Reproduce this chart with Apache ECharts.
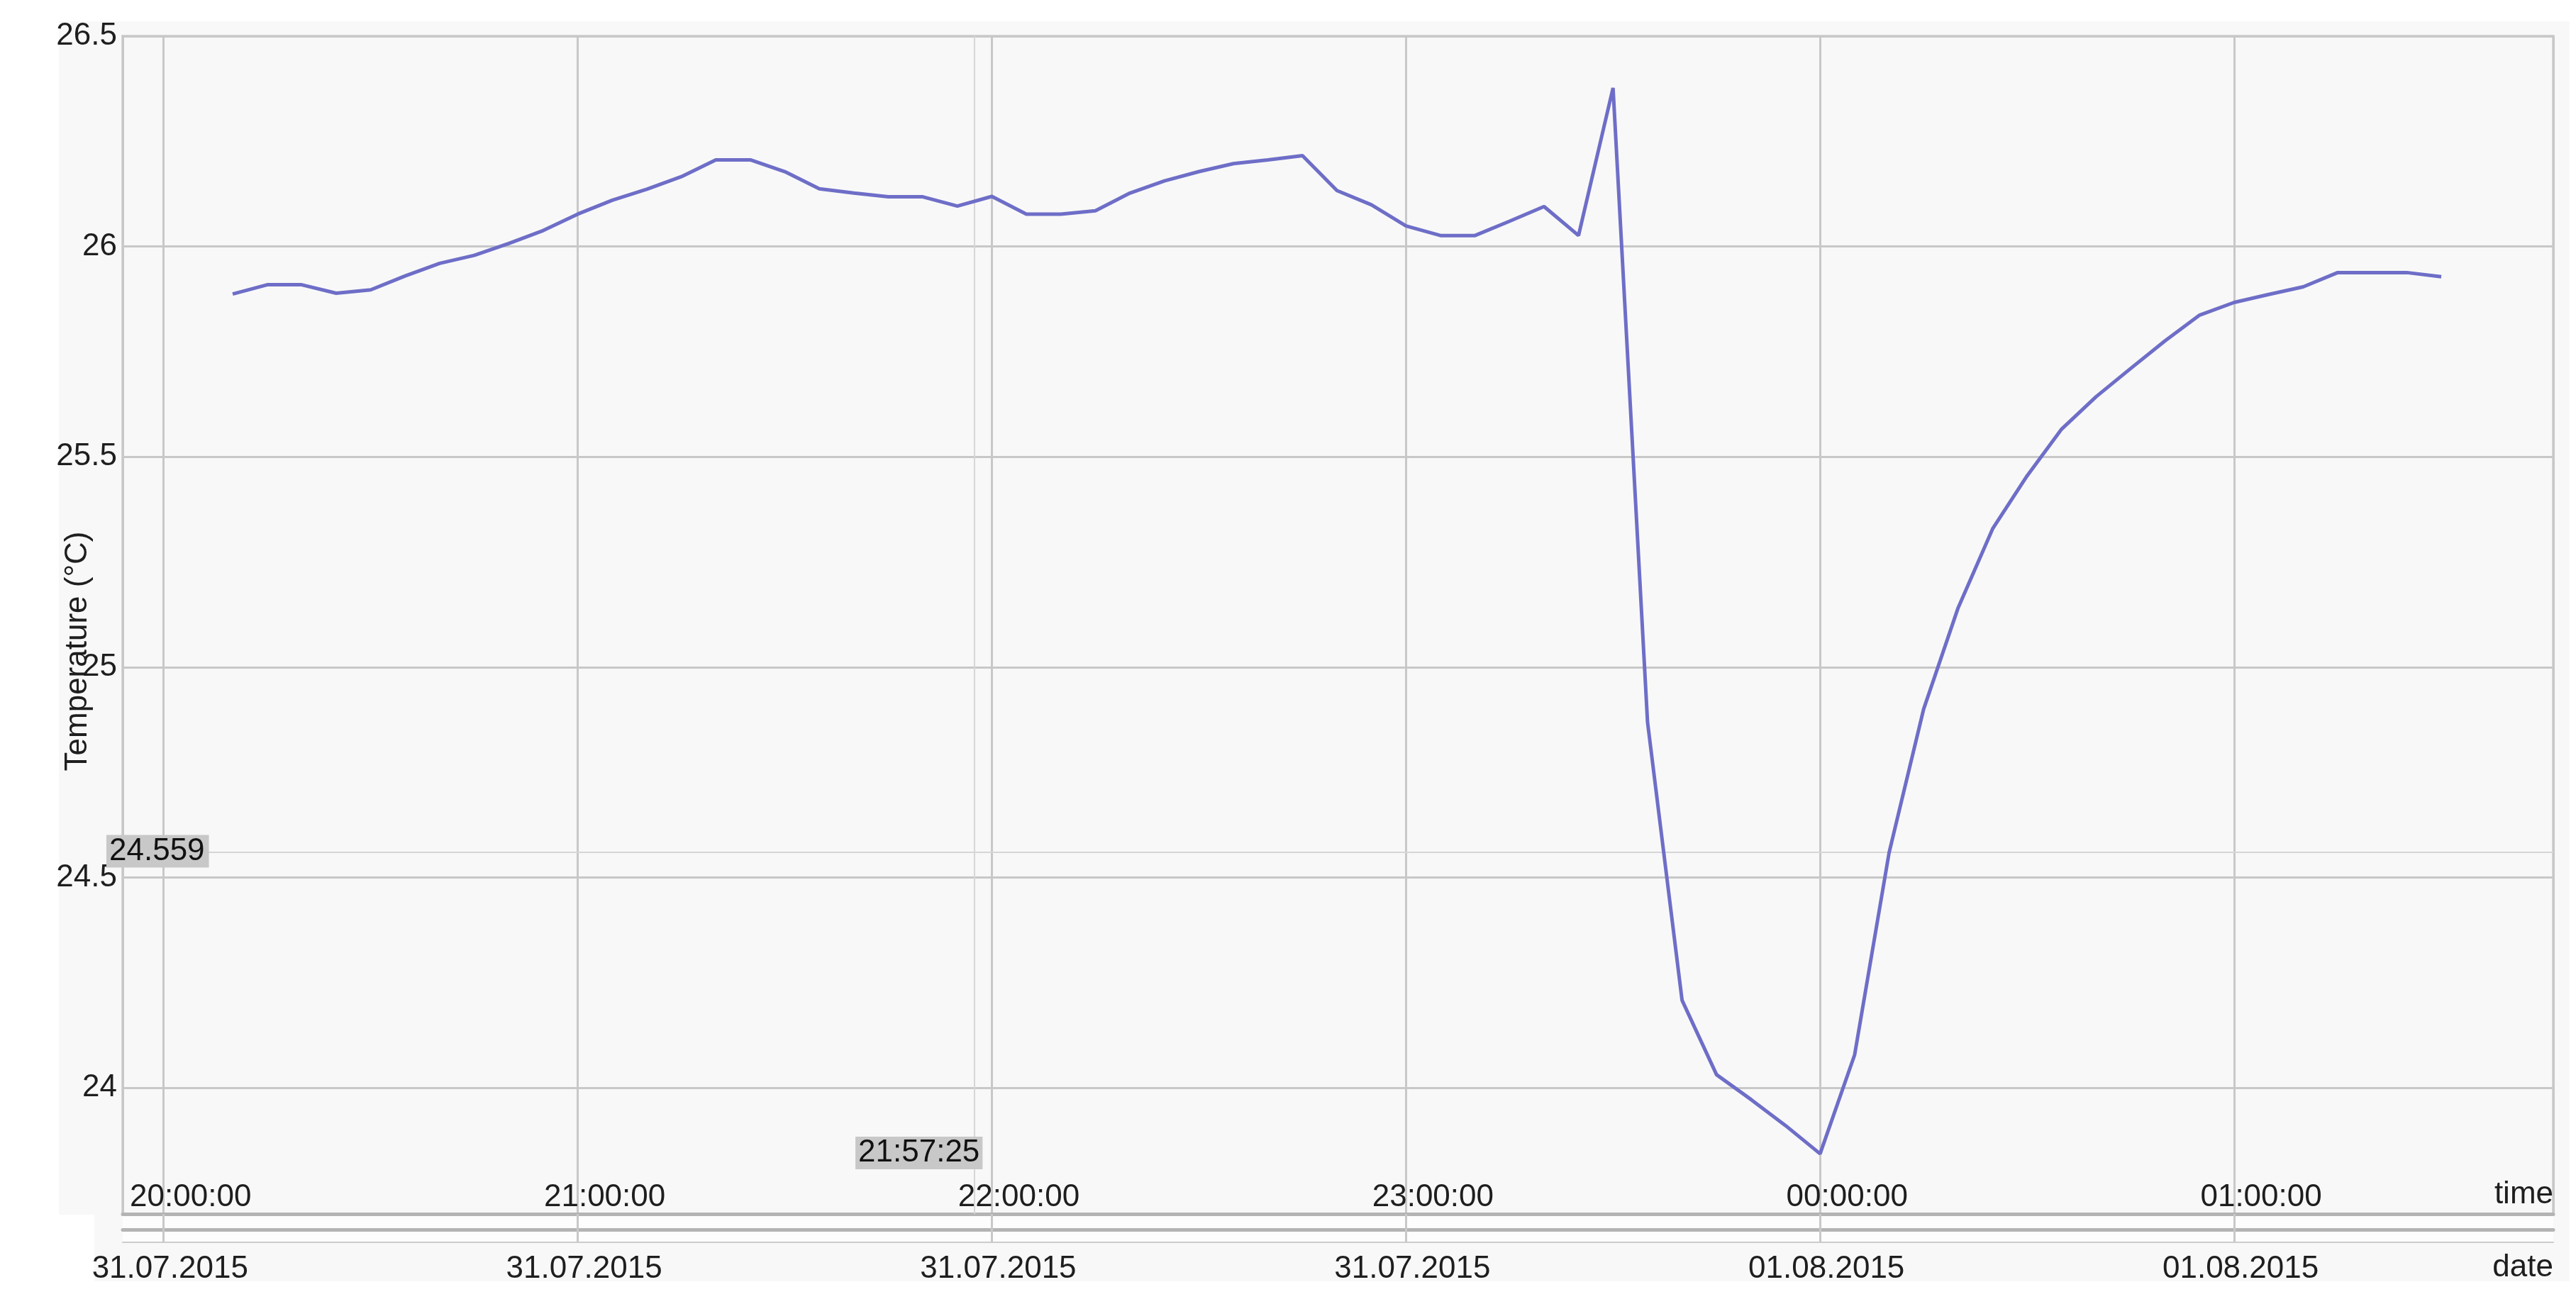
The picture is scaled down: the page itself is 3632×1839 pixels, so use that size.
<!DOCTYPE html>
<html>
<head>
<meta charset="utf-8">
<script src="https://cdn.jsdelivr.net/npm/echarts@6.0.0/dist/echarts.min.js"></script>
<style>
html,body{margin:0;padding:0;background:#fff;}
#chart{width:3632px;height:1839px;}
</style>
</head>
<body>
<div id="chart"></div>
<script>
// ---- data ----
const times = [
  '2015-07-31T20:10:00','2015-07-31T20:15:00','2015-07-31T20:20:00','2015-07-31T20:25:00','2015-07-31T20:30:00',
  '2015-07-31T20:35:00','2015-07-31T20:40:00','2015-07-31T20:45:00','2015-07-31T20:50:00','2015-07-31T20:55:00',
  '2015-07-31T21:00:00','2015-07-31T21:05:00','2015-07-31T21:10:00','2015-07-31T21:15:00','2015-07-31T21:20:00',
  '2015-07-31T21:25:00','2015-07-31T21:30:00','2015-07-31T21:35:00','2015-07-31T21:40:00','2015-07-31T21:45:00',
  '2015-07-31T21:50:00','2015-07-31T21:55:00','2015-07-31T22:00:00','2015-07-31T22:05:00','2015-07-31T22:10:00',
  '2015-07-31T22:15:00','2015-07-31T22:20:00','2015-07-31T22:25:00','2015-07-31T22:30:00','2015-07-31T22:35:00',
  '2015-07-31T22:40:00','2015-07-31T22:45:00','2015-07-31T22:50:00','2015-07-31T22:55:00','2015-07-31T23:00:00',
  '2015-07-31T23:05:00','2015-07-31T23:10:00','2015-07-31T23:15:00','2015-07-31T23:20:00','2015-07-31T23:25:00',
  '2015-07-31T23:30:00','2015-07-31T23:35:00','2015-07-31T23:40:00','2015-07-31T23:45:00','2015-07-31T23:50:00',
  '2015-07-31T23:55:00','2015-08-01T00:00:00','2015-08-01T00:05:00','2015-08-01T00:10:00','2015-08-01T00:15:00',
  '2015-08-01T00:20:00','2015-08-01T00:25:00','2015-08-01T00:30:00','2015-08-01T00:35:00','2015-08-01T00:40:00',
  '2015-08-01T00:45:00','2015-08-01T00:50:00','2015-08-01T00:55:00','2015-08-01T01:00:00','2015-08-01T01:05:00',
  '2015-08-01T01:10:00','2015-08-01T01:15:00','2015-08-01T01:20:00','2015-08-01T01:25:00','2015-08-01T01:30:00'
];
const temperatures = [
  25.887, 25.909, 25.909, 25.889, 25.897,
  25.930, 25.960, 25.979, 26.007, 26.038,
  26.077, 26.110, 26.136, 26.166, 26.206,
  26.206, 26.178, 26.137, 26.127, 26.118,
  26.118, 26.096, 26.119, 26.077, 26.077,
  26.085, 26.127, 26.156, 26.178, 26.197,
  26.206, 26.216, 26.133, 26.099, 26.049,
  26.026, 26.026, 26.060, 26.095, 26.026,
  26.377, 24.869, 24.208, 24.031, 23.972,
  23.910, 23.843, 24.078, 24.559, 24.900,
  25.141, 25.329, 25.455, 25.566, 25.643,
  25.710, 25.776, 25.837, 25.867, 25.886,
  25.904, 25.938, 25.938, 25.938, 25.928
];
const xRange = ['2015-07-31T19:54:04', '2015-08-01T01:46:14'];
const yRange = [23.7, 26.5];
const cursorTime = '2015-07-31T21:57:25';
const cursorLabel = '21:57:25';
const cursorValue = 24.559;
const axisNames = { y: 'Temperature (°C)', time: 'time', date: 'date' };

// ---- chart ----
const FONT = 'Liberation Sans, Arial, sans-serif';
const ms = s => new Date(s).getTime();
const xMin = ms(xRange[0]), xMax = ms(xRange[1]);
const seriesData = times.map((t, i) => [ms(t), temperatures[i]]);

const chart = echarts.init(document.getElementById('chart'), null, {renderer: 'canvas'});
const gridC = '#c8c8c8';
const textC = '#1e1e1e';

const baseX = {
  type: 'time', min: xMin, max: xMax, position: 'bottom',
  minInterval: 3600000, maxInterval: 3600000
};

chart.setOption({
  animation: false,
  backgroundColor: '#ffffff',
  textStyle: {fontFamily: FONT},
  graphic: [
    {type: 'rect', z: -20, shape: {x: 83, y: 30, width: 3540, height: 1683}, style: {fill: '#f8f8f8'}},
    {type: 'rect', z: -20, shape: {x: 133, y: 1712, width: 3490, height: 95}, style: {fill: '#f8f8f8'}},
    {type: 'rect', z: -19, shape: {x: 173, y: 1712, width: 3427, height: 40}, style: {fill: '#fdfdfd'}}
  ],
  grid: {
    left: 173, top: 51, width: 3427, height: 1661,
    show: true, backgroundColor: '#f8f8f8', borderColor: '#b4b4b4', borderWidth: 3,
    containLabel: false
  },
  xAxis: [
    Object.assign({}, baseX, {
      name: axisNames.time, nameLocation: 'end', nameGap: 0,
      nameTextStyle: {fontSize: 44, color: textC, align: 'right', verticalAlign: 'bottom', padding: [0, 0, 5, 0], fontFamily: FONT},
      axisLine: {show: true, lineStyle: {color: '#b4b4b4', width: 5}},
      axisTick: {show: false},
      splitLine: {show: true, lineStyle: {color: gridC, width: 3}},
      axisLabel: {
        inside: true, margin: 23, verticalAlign: 'middle', fontSize: 44, color: textC, fontFamily: FONT,
        formatter: '{HH}:{mm}:{ss}', showMinLabel: false, showMaxLabel: false,
        padding: [0, 0, 0, 76], hideOverlap: false
      }
    }),
    Object.assign({}, baseX, {
      offset: 22,
      axisLine: {show: true, lineStyle: {color: '#b4b4b4', width: 5}},
      axisTick: {show: false}, axisLabel: {show: false}, splitLine: {show: false}
    }),
    Object.assign({}, baseX, {
      offset: 40,
      name: axisNames.date, nameLocation: 'end', nameGap: 0,
      nameTextStyle: {fontSize: 44, color: textC, align: 'right', verticalAlign: 'top', padding: [14, 0, 0, 0], fontFamily: FONT},
      axisLine: {show: true, lineStyle: {color: '#cccccc', width: 2}},
      axisTick: {show: true, inside: true, length: 40, lineStyle: {color: gridC, width: 3}},
      splitLine: {show: false},
      axisLabel: {
        margin: 9, fontSize: 44, color: textC, fontFamily: FONT,
        formatter: '{dd}.{MM}.{yyyy}', showMinLabel: false, showMaxLabel: false,
        padding: [7, 0, 0, 18], hideOverlap: false
      }
    })
  ],
  yAxis: [
    {
      type: 'value', min: yRange[0], max: yRange[1], position: 'left',
      axisLine: {show: false}, axisTick: {show: false},
      splitLine: {show: true, lineStyle: {color: gridC, width: 3}},
      axisLabel: {fontSize: 44, color: textC, margin: 8, fontFamily: FONT, showMinLabel: false}
    },
    {
      type: 'value', min: yRange[0], max: yRange[1], position: 'left',
      name: axisNames.y, nameLocation: 'middle', nameGap: 41, nameRotate: 90,
      nameTextStyle: {fontSize: 44, color: textC, fontFamily: FONT, padding: [0, 74, 0, 0]},
      axisLine: {show: false}, axisTick: {show: false},
      splitLine: {show: false}, axisLabel: {show: false}
    }
  ],
  series: [{
    type: 'line',
    data: seriesData,
    showSymbol: false,
    symbol: 'none',
    lineStyle: {color: '#6e6ec8', width: 5},
    itemStyle: {color: '#6e6ec8'},
    z: 5,
    markLine: {
      silent: true, symbol: ['none', 'none'], label: {show: false},
      lineStyle: {color: '#d6d6d6', width: 2, type: 'solid'},
      data: [{xAxis: ms(cursorTime)}, {yAxis: cursorValue}]
    },
    markPoint: {
      silent: true, symbol: 'rect', symbolSize: 0,
      data: [
        {coord: [xMin, cursorValue], value: cursorValue,
         label: {show: true, position: 'right', distance: 0, offset: [-23, -2],
                 formatter: String(cursorValue), fontSize: 44, color: '#111', fontFamily: FONT,
                 backgroundColor: '#c8c8c8', padding: [1, 6, 1, 4]}},
        {coord: [ms(cursorTime), yRange[0]], value: 0,
         label: {show: true, position: 'left', distance: 0, offset: [12, -86],
                 formatter: cursorLabel, fontSize: 44, color: '#111', fontFamily: FONT,
                 backgroundColor: '#c8c8c8', padding: [1, 4, 1, 4]}}
      ]
    }
  }]
});
</script>
</body>
</html>
